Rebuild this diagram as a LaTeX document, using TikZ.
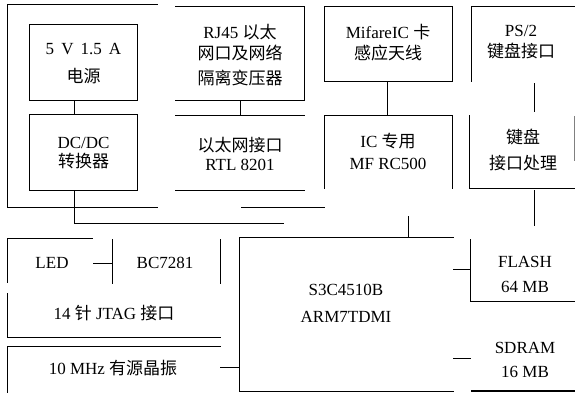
\documentclass[tikz,border=0pt]{standalone}
\usepackage{fontspec}
\setmainfont{Liberation Serif}
\newfontfamily\cjk{Noto Sans CJK SC}
\begin{document}
\begin{tikzpicture}[x=1pt,y=-1pt,
  shp/.style={rectangle, inner sep=0pt, draw=none},
  wh/.style 2 args={minimum width=#1pt, minimum height=#2pt},
  txt/.style={inner sep=0pt, align=center, font=\fontsize{17}{19}\selectfont},
  ln/.style={line width=1pt, line cap=rect}]
\useasboundingbox (0,0) rectangle (575,392);
% box shapes
\node[shp, wh={149}{202}] (pwr)   at (82.5,106) {};
\node[shp, wh={107}{75}]  (psu)   at (83.5,62.5) {};
\node[shp, wh={107}{75}]  (dcdc)  at (83.5,152.5) {};
\node[shp, wh={128}{93}]  (rj45)  at (240,53.5) {};
\node[shp, wh={128}{74}]  (eth)   at (240,153) {};
\node[shp, wh={127}{74}]  (mif)   at (388.5,44) {};
\node[shp, wh={127}{72}]  (mfrc)  at (388.5,152) {};
\node[shp, wh={103}{74}]  (ps2)   at (523.5,44) {};
\node[shp, wh={104}{72}]  (kbd)   at (522,152) {};
\node[shp, wh={213}{153}] (cpu)   at (346.5,314.5) {};
\node[shp, wh={104}{61}]  (flash) at (523,270.5) {};
\node[shp, wh={104}{73}]  (sdram) at (523,354.5) {};
\node[shp, wh={212}{98}]  (jtag)  at (114,288) {};
\node[shp, wh={107}{43}]  (bc)    at (166.5,261.5) {};
\node[shp, wh={212}{45}]  (osc)   at (114,369.5) {};
% texts
\node[txt] (psuT)   at (83.5,64)  {5\, V\, 1.5\, A\\[9pt]{\cjk 电源}};
\node[txt] (dcdcT)  at (83.5,153) {DC/DC\\{\cjk 转换器}};
\node[txt] (rj45T)  at (240,55)   {RJ45 {\cjk 以太}\\[2pt]{\cjk 网口及网络}\\[6pt]{\cjk 隔离变压器}};
\node[txt] (ethT)   at (240,154)  {{\cjk 以太网接口}\\RTL 8201};
\node[txt] (mifT)   at (388,42.5) {MifareIC {\cjk 卡}\\[2pt]{\cjk 感应天线}};
\node[txt] (mfrcT)  at (388,151)  {IC {\cjk 专用}\\[3pt]MF RC500};
\node[txt] (ps2T)   at (521,42.5) {PS/2\\[2pt]{\cjk 键盘接口}};
\node[txt] (kbdT)   at (523,150)  {{\cjk 键盘}\\[7pt]{\cjk 接口处理}};
\node[txt] (cpuT)   at (346,303.5) {S3C4510B\\[8pt]ARM7TDMI};
\node[txt] (flashT) at (525,274.5) {FLASH\\[6pt]64 MB};
\node[txt] (sdramT) at (525,360)  {SDRAM\\[5pt]16 MB};
\node[txt] (ledT)   at (52,263)   {LED};
\node[txt] (bcT)    at (165,263)  {BC7281};
\node[txt] (jtagT)  at (114,313)  {14 {\cjk 针} JTAG {\cjk 接口}};
\node[txt] (oscT)   at (113,368)  {10 MHz {\cjk 有源晶振}};
% box edges (as printed)
\draw[ln] (pwr.north east) -- (pwr.north west) -- (pwr.south west) -- (pwr.south east);
\draw[ln] (psu.south west) rectangle (psu.north east);
\draw[ln] (dcdc.south west) rectangle (dcdc.north east);
\draw[ln] (rj45.north west) -- (rj45.north east) -- (rj45.south east) -- (rj45.south west);
\draw[ln] (eth.north west) -- (eth.north east);
\draw[ln] (eth.south west) -- (eth.south east);
\draw[ln] (mif.south west) rectangle (mif.north east);
\draw[ln] (mfrc.south west) -- (mfrc.north west) -- (mfrc.north east) -- (mfrc.south east);
\draw[ln] (ps2.south west) -- (ps2.north west) -- (ps2.north east);
\draw[ln] (kbd.north west) -- (kbd.south west) -- (kbd.south east);
\draw[line width=0.5pt, gray] (kbd.north east) -- ++(0,45);
\draw[ln] (cpu.north east) -- (cpu.north west) -- (cpu.south west) -- (cpu.south east);
\draw[ln] (flash.north west) -- (flash.south west) -- (flash.south east);
\draw[line width=1.6pt] (sdram.south west) -- (sdram.south east);
\draw[ln] (jtag.north west) -- ++(85,0);
\draw[ln] (jtag.north west) -- ++(0,44);
\draw[ln] (jtag.south west) -- ++(0,-44);
\draw[ln] (jtag.south west) -- (jtag.south east);
\draw[ln] (bc.north west) -- (bc.south west);
\draw[ln] (bc.north east) -- (bc.south east);
\draw[ln] (osc.north east) -- (osc.north west) -- (osc.south west);
% connectors
\coordinate (busE) at (283,223);
\coordinate (b2w) at (241,207);
\coordinate (b2e) at (324,207);
\draw[ln] ([xshift=-9.5pt]psu.south) -- ([xshift=-9.5pt]dcdc.north);
\draw[ln] ([xshift=-9.5pt]dcdc.south) |- (busE);
\draw[ln] (b2w) -- (b2e);
\draw[ln] (rj45.south) -- (eth.north);
\draw[ln] ([xshift=-1.5pt]mif.south) -- ([xshift=-1.5pt]mfrc.north);
\draw[ln] ([xshift=61.5pt]cpu.north) -- ++(0,-21);
\draw[ln] ([xshift=10.5pt,yshift=-2pt]ps2.south) -- ([xshift=12pt,yshift=4pt]kbd.north);
\draw[ln] ([xshift=12pt,yshift=-2pt]kbd.south) -- ++(0,35);
\draw[ln] ([yshift=1.5pt]flash.west) -- ([yshift=1.5pt]flash.west -| cpu.east);
\draw[ln] ([yshift=-3.5pt]sdram.west) -- ([yshift=-3.5pt]sdram.west -| cpu.east);
\draw[ln] ([yshift=2.5pt]osc.east) -- ([yshift=2.5pt]osc.east -| cpu.west);
\draw[ln] (bc.west |- ledT) -- ++(-19,0);
\end{tikzpicture}
\end{document}
